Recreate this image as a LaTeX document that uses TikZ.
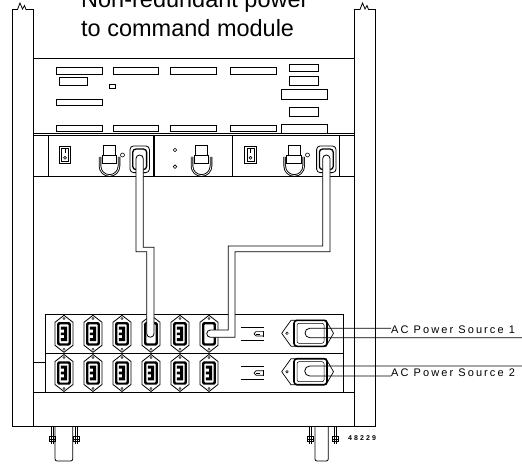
\documentclass[tikz,border=0pt]{standalone}
\usepackage{fontspec}
\setmainfont{Liberation Sans}
\newfontfamily\srcfont[LetterSpace=19]{Liberation Sans}
\newfontfamily\numfont[LetterSpace=30]{Liberation Sans}
\usetikzlibrary{calc}

\tikzset{
  frame/.style={line width=0.8pt},
  slot/.style={draw, line width=0.7pt},
  cable/.style={draw, fill=white, line width=0.8pt},
  acline/.style={line width=0.8pt},
  outlet/.pic={
    \draw[line width=0.8pt, fill=white] (0,-18.5) -- (9,-11.5) -- (9,11.5) -- (0,18.5) -- (-9,11.5) -- (-9,-11.5) -- cycle;
    \draw[line width=0.4pt] (0,-15.4) circle (1.1) (0,15.4) circle (1.1);
    \fill[rounded corners=2pt] (-6.8,-11.7) rectangle (6.8,11.7);
    \fill[white, rounded corners=1pt] (-4.6,-9.5) rectangle (4.6,9.5);
  },
  prongs/.pic={
    \fill (-3.2,-7.3) -- (3.2,-7.3) -- (3.2,7.3) -- (-3.2,7.3) -- (-3.2,4.3) -- (0,4.3) -- (0,1.3) -- (-3.2,1.3) -- (-3.2,-1.3) -- (0,-1.3) -- (0,-4.3) -- (-3.2,-4.3) -- cycle;
  },
  psuswitch/.pic={
    \draw[line width=1.1pt] (-5.7,-8.5) rectangle (5.7,8.5);
    \draw[line width=0.4pt] (-3.6,-6.4) rectangle (3.6,6.4);
    \draw[line width=0.6pt] (0,-5.5) -- (0,-1.5);
    \draw[line width=0.6pt] (0,2.8) circle (1.4);
  },
  handle/.pic={
    \draw[double, double distance=0.7pt, line width=0.9pt] (-9.5,12) -- (-9.5,21) arc[start angle=180, end angle=0, radius=9.5] -- (9.5,12);
    \draw[line width=0.9pt, fill=white] (-6,0) rectangle (6,10);
    \draw[line width=0.9pt, fill=white] (-7.3,10) rectangle (7.3,18);
  },
  psuplug/.pic={
    \draw[line width=0.8pt, rounded corners=3.5pt] (-9.7,-13.3) rectangle (9.7,13.3);
    \draw[line width=1.3pt, rounded corners=3pt] (-6.9,-10.2) rectangle (6.9,10.2);
  },
  lamp/.pic={
    \draw[line width=0.7pt] (-11.5,-6.7) -- (11.5,-6.7) (-11.5,6.7) -- (11.5,6.7);
    \draw[line width=0.7pt] (10.5,-3) -- (10.5,3);
    \draw[line width=0.7pt] (10.5,-2.2) -- (3.5,-2.2) -- (1.5,0) -- (3.5,2.2) -- (10.5,2.2);
    \draw[line width=0.5pt] (3.5,0) -- (7,0);
  },
  inlet/.pic={
    \draw[line width=0.7pt] (-28.8,0) -- (-19.5,-13) -- (15.5,-13) -- (23,0) -- (15.5,13) -- (-19.5,13) -- cycle;
    \draw[line width=0.5pt] (-23.5,0) circle (1.3);
    \draw[line width=1.6pt, fill=white, rounded corners=3pt] (-16.5,-13) rectangle (16.5,13);
    \draw[line width=0.5pt, rounded corners=2pt] (-13.5,-10) rectangle (13.5,10);
  }
}

\begin{document}
\begin{tikzpicture}[x=1pt, y=-1pt]
  \useasboundingbox (0,0) rectangle (522,468);
  \clip (0,0) rectangle (522,468);

  % title
  \node (title1) [anchor=base west, inner sep=0pt, font=\fontsize{23.5}{28}\selectfont] at (81,7.5) {Non-redundant power};
  \node (title2) [anchor=base west, inner sep=0pt, font=\fontsize{23.5}{28}\selectfont] at (81,36.7) {to command module};

  % rack rails
  \draw[frame] (12.3,9.5) -- (12.3,426) -- (375.7,426) -- (375.7,9.5);
  \draw[frame] (33.3,9.5) -- (33.3,426) (354.3,9.5) -- (354.3,426);
  \draw[frame] (12.3,9.5) -- (17.5,9.5) -- (20,3) -- (22.5,9) -- (24.5,5.5) -- (26,9.5) -- (33.3,9.5);
  \draw[frame] (354.3,9.5) -- (360,9.5) -- (362.5,3) -- (365,9) -- (367,5.5) -- (368.5,9.5) -- (375.7,9.5);

  % command module
  \draw[frame] (33.3,58.3) -- (354.3,58.3);
  \draw[frame] (33.3,133.3) -- (354.3,133.3) (33.3,135.7) -- (354.3,135.7) (33.3,176.7) -- (354.3,176.7);
  \foreach \a/\b/\c/\d in {56/67.7/102.3/74, 113.3/67.7/158.7/74, 170.7/67.7/216.3/74, 230.3/67.7/276.3/74,
      289/64.3/318.3/71.7, 59.3/77.3/87.3/85, 109.3/84.3/115.3/88.3, 289/76.3/318.3/85.3,
      281.7/89.7/327.3/99.7, 56/99/102.3/105.3, 289/107.7/318.3/116.3,
      56/125/102.3/131.7, 113.3/125/158.7/131.7, 170.7/125/216.3/131.7, 230.3/125/276.3/131.7, 281.7/124/327.3/133.3}
    \draw[slot] (\a,\b) rectangle (\c,\d);

  % power supplies
  \draw[frame] (48.3,135.7) -- (48.3,176.7) (339.5,135.7) -- (339.5,176.7);
  \draw[line width=1.4pt] (154,135.7) -- (154,176.7);
  \draw[line width=1.1pt] (232.3,135.7) -- (232.3,176.7);
  \pic at (65,155) {psuswitch};
  \pic at (250.5,155) {psuswitch};
  \foreach \hx in {109.5,201.5,294.2}
    \pic at (\hx,145) {handle};
  \draw[line width=0.6pt] (122.5,155) circle (2) (307.5,155) circle (2) (175,150) circle (1.8) (175,166.7) circle (1.8);
  \pic at (139.7,159.3) {psuplug};
  \pic at (326.3,159.3) {psuplug};

  % power strips
  \draw[frame] (45,314.3) rectangle (343.3,392.7);
  \draw[frame] (45,353.3) -- (343.3,353.3);
  \draw[frame] (33.3,362.3) -- (45,362.3);
  \draw[frame] (33.3,392.7) -- (354.3,392.7);
  \foreach \row in {333.8,373} {
    \foreach \ox in {64,93,122,151,180,209}
      \pic at (\ox,\row) {outlet};
    \pic at (252.5,\row) {lamp};
  }
  \foreach \ox in {64,93,122,180}
    \pic at (\ox,333.8) {prongs};
  \foreach \ox in {64,93,122,151,180,209}
    \pic at (\ox,373) {prongs};
  \pic at (310.5,333.3) {inlet};
  \pic at (310.5,371.7) {inlet};

  % cables to the command module
  \draw[cable] (136,158.6) arc[start angle=180, end angle=360, radius=3.65] -- (143.3,247.3) -- (154,247.3)
    -- (154,333.6) arc[start angle=0, end angle=180, radius=3.65] -- (146.7,251.7) -- (136,251.7) -- cycle;
  \draw[cable] (322.7,158.6) arc[start angle=180, end angle=360, radius=3.65] -- (330,251.7) -- (235,251.7)
    -- (235,337.3) -- (210.4,337.3) arc[start angle=90, end angle=270, radius=3.65] -- (228.3,330) -- (228.3,246) -- (322.7,246) -- cycle;

  % AC sources
  \node (src1) [anchor=west, inner sep=0pt, font=\srcfont\fontsize{11}{13}\selectfont] at (391,330) {AC Power Source 1};
  \node (src2) [anchor=west, inner sep=0pt, font=\srcfont\fontsize{11}{13}\selectfont] at (391,372.5) {AC Power Source 2};
  \draw[acline] (src1.west |- 0,328.3) -- (309.7,328.3) arc[start angle=270, end angle=90, radius=4.7] -- (522,337.7);
  \draw[acline] (522,366) -- (309.7,366) arc[start angle=270, end angle=90, radius=5] -- (src2.west |- 0,376);

  % casters
  \foreach \bl/\wl/\wr/\br in {52/55/72.7/76, 310/315/328.3/335} {
    \draw[frame, rounded corners=2pt] (\wl,426) -- (\wl,461) -- (\wr,461) -- (\wr,426);
    \foreach \bx in {\bl,\br} {
      \draw[line width=0.5pt] (\bx-0.9,426) -- (\bx-0.9,444) (\bx+0.9,426) -- (\bx+0.9,444);
      \draw[line width=0.6pt] (\bx-2.8,436.5) rectangle (\bx+2.8,441.5);
      \draw[line width=0.6pt] (\bx-2.8,439) -- (\bx+2.8,439);
    }
  }
  \node (fignum) [anchor=west, inner sep=0pt, font=\numfont\bfseries\fontsize{7}{8}\selectfont] at (348,437.7) {48229};
\end{tikzpicture}
\end{document}
